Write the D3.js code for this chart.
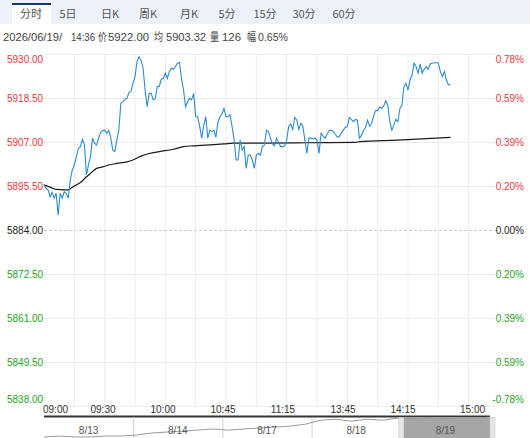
<!DOCTYPE html>
<html><head><meta charset="utf-8">
<script src="https://cdn.jsdelivr.net/npm/d3@7/dist/d3.min.js"></script>
<style>
html,body{margin:0;padding:0;background:#fff;}
svg{display:block;}
</style></head>
<body><svg id="c" width="530" height="438"></svg>
<script>
// ---------- data ----------
const tabs = ["分时","5日","日K","周K","月K","5分","15分","30分","60分"];
const infoParts = ["2026/06/19/","14:36","价","5922.00","均","5903.32","量","126","幅","0.65%"];
const prevClose = 5884;
const priceTicks = [5930, 5918.5, 5907, 5895.5, 5884, 5872.5, 5861, 5849.5, 5838];
const pctTicks = ["0.78%","0.59%","0.39%","0.20%","0.00%","0.20%","0.39%","0.59%","-0.78%"];
const timeLabels = ["09:00","09:30","10:00","10:45","11:15","13:45","14:15","15:00"];
const totalMinutes = 225;
const price = [
5895.8,5894.9,5894.5,5892.7,5893.8,5892.3,5893.6,5887.9,5893.6,5892.3,
5894.0,5893.6,5892.3,5897.1,5899.7,5901.0,5903.2,5905.3,5905.8,5907.7,
5906.2,5898.4,5901.0,5903.2,5908.0,5906.7,5906.2,5908.0,5909.5,5910.0,
5910.1,5909.3,5910.0,5908.2,5904.9,5904.5,5907.5,5910.1,5917.1,5917.5,
5918.2,5918.4,5919.9,5920.2,5922.3,5924.1,5928.0,5929.3,5928.4,5926.3,
5920.6,5916.2,5919.7,5919.7,5918.0,5918.4,5921.5,5921.5,5923.4,5923.6,
5925.0,5923.6,5925.4,5926.3,5926.0,5926.7,5927.6,5927.8,5923.6,5920.6,
5916.2,5917.5,5918.4,5918.0,5919.7,5913.6,5913.6,5911.0,5908.0,5911.4,
5913.6,5908.0,5910.1,5909.7,5910.1,5908.2,5912.1,5913.6,5914.3,5915.8,
5913.6,5913.6,5914.1,5911.0,5907.7,5902.3,5902.3,5907.5,5904.9,5905.8,
5900.1,5903.6,5903.6,5902.3,5900.1,5903.6,5904.0,5903.6,5905.8,5906.2,
5910.1,5909.7,5908.0,5906.5,5906.0,5908.0,5906.9,5905.8,5905.8,5906.0,
5907.5,5911.1,5911.7,5910.3,5913.4,5912.7,5910.3,5911.9,5911.1,5907.5,
5904.0,5908.0,5908.0,5907.8,5908.0,5907.5,5904.0,5909.3,5908.6,5908.0,
5909.1,5910.0,5910.1,5909.7,5909.1,5908.3,5908.4,5909.3,5910.1,5910.8,
5911.1,5913.4,5912.9,5912.3,5912.9,5912.7,5908.0,5908.8,5910.0,5910.8,
5912.7,5911.1,5911.9,5913.8,5915.2,5915.2,5916.2,5915.8,5916.4,5917.8,
5916.6,5912.3,5910.1,5911.4,5912.9,5912.3,5915.8,5916.6,5921.5,5922.3,
5920.6,5923.2,5924.5,5927.6,5926.7,5925.0,5927.4,5925.0,5926.0,5926.7,
5926.0,5927.4,5927.6,5927.7,5927.7,5927.6,5925.4,5924.1,5925.4,5923.2,
5921.9,5922.0];
const avgMinutes = [0,3,6,10,12,14,18,21,23,26,29,32,36,41,44,48,52,57,64,69,74,80,89,94,109,130,154,156,175,201];
const avgValues  = [5895.8,5895.2,5894.6,5894.5,5894.5,5895.2,5896.4,5897.9,5898.8,5900.1,5900.5,5901.0,5901.4,5901.8,5902.3,5903.3,5904.0,5904.5,5905.1,5905.8,5906.0,5906.2,5906.5,5906.7,5906.7,5906.8,5906.9,5907.1,5907.5,5908.2];
const navDays = ["8/13","8/14","8/17","8/18","8/19"];
const navValues = [5800,5806,5800,5800,5806,5806,5812,5825,5831,5837,5843,5850,5843,5850,5856,5862,5868,5880,5905,5911,5899,5911,5905,5918,5911,5918,5911,5918,5918,5924];

// ---------- chart ----------
const svg = d3.select("#c");
const latin = "'Liberation Sans', Arial, 'Noto Sans CJK SC', sans-serif";
const cjk = "'Noto Sans CJK SC', 'Liberation Sans', sans-serif";
const red = "#e8383d", green = "#27a327";

// tab bar
svg.append("rect").attr("x",0).attr("y",0).attr("width",530).attr("height",24).attr("fill","#edf1f9");
const tabPos = [31,68,110,148,189,227,265,304,344];
svg.append("rect").attr("x",12).attr("y",3).attr("width",39).attr("height",21).attr("fill","#fff");
svg.append("rect").attr("x",12).attr("y",3).attr("width",39).attr("height",2).attr("fill","#1d3566");
svg.selectAll("text.tab").data(tabs).enter().append("text")
  .attr("class","tab")
  .attr("x",(d,i)=>tabPos[i]).attr("y",18)
  .attr("text-anchor","middle").attr("font-family",cjk).attr("font-size",11)
  .attr("fill","#555").text(d=>d);

// info line
const infoX = [3,71,98,108,154,166,210,222,247,258];
const infoW = [59,24,9,41,9,40,9,19,9,30];
svg.selectAll("text.info").data(infoParts).enter().append("text")
  .attr("class","info").attr("x",(d,i)=>infoX[i]).attr("y",41)
  .attr("textLength",(d,i)=>infoW[i]).attr("lengthAdjust","spacingAndGlyphs")
  .attr("font-family",latin).attr("font-size",11).attr("fill","#444").text(d=>d);

// scales
const x = d3.scaleLinear().domain([0,totalMinutes]).range([44,499]);
const y = d3.scaleLinear().domain([5838,5930]).range([406,54]);

// grid
const g = svg.append("g");
const vTicks = d3.range(15, totalMinutes, 15);
g.selectAll("line.v").data(vTicks).enter().append("line")
  .attr("x1",d=>x(d)).attr("x2",d=>x(d)).attr("y1",y(5930)).attr("y2",y(5838))
  .attr("stroke","#ebebeb").attr("stroke-width",1);
g.selectAll("line.h").data(priceTicks).enter().append("line")
  .attr("x1",44).attr("x2",497).attr("y1",d=>Math.round(y(d))+0.5).attr("y2",d=>Math.round(y(d))+0.5)
  .attr("stroke",d=>d===prevClose?"#cfcfcf":"#ebebeb").attr("stroke-width",1)
  .attr("stroke-dasharray",d=>d===prevClose?"3,2":null);

// y labels
const labY = (d,i)=> i===0 ? y(d)+9 : (i===priceTicks.length-1 ? y(d)-3 : y(d)+3.5);
const col = d => d>prevClose?red:(d<prevClose?green:"#222");
svg.selectAll("text.yl").data(priceTicks).enter().append("text")
  .attr("x",7).attr("y",labY).attr("font-family",latin).attr("font-size",10)
  .attr("fill",col).text(d=>d.toFixed(2));
svg.selectAll("text.yr").data(priceTicks).enter().append("text")
  .attr("x",524).attr("y",labY).attr("text-anchor","end").attr("font-family",latin).attr("font-size",10)
  .attr("fill",col).text((d,i)=>pctTicks[i]);

// avg line
svg.append("path").datum(avgMinutes.map((m,i)=>[m,avgValues[i]]))
  .attr("fill","none").attr("stroke","#1a1a1a").attr("stroke-width",1.2)
  .attr("d", d3.line().x(d=>x(d[0])).y(d=>y(d[1])).curve(d3.curveMonotoneX));

// price line
svg.append("path").datum(price)
  .attr("fill","none").attr("stroke","#2f8bd0").attr("stroke-width",1.1)
  .attr("d", d3.line().x((d,i)=>x(i)).y(d=>y(d)));

// time labels
const tx = d3.scalePoint().domain(timeLabels).range([43,463]);
svg.selectAll("text.tl").data(timeLabels).enter().append("text")
  .attr("x",(d,i)=> i===0 ? tx(d) : (i===timeLabels.length-1 ? tx(d)-3 : tx(d)))
  .attr("y",413)
  .attr("text-anchor",(d,i)=> (i===0||i===timeLabels.length-1) ? "start" : "middle")
  .attr("font-family",latin).attr("font-size",10).attr("fill","#333").text(d=>d);

// navigator
const nb = d3.scaleBand().domain(navDays).range([44,490]);
svg.append("rect").attr("x",44).attr("y",415.5).attr("width",446).attr("height",2).attr("fill","#333");
const last = navDays[navDays.length-1];
svg.append("rect").attr("x",nb(last)+3).attr("y",417.5).attr("width",nb.bandwidth()-3).attr("height",21).attr("fill","#a6a6a6");
svg.selectAll("line.nd").data(navDays.slice(1)).enter().append("line")
  .attr("x1",d=>nb(d)+0.5).attr("x2",d=>nb(d)+0.5).attr("y1",417).attr("y2",438)
  .attr("stroke","#d0d0d0");
const nx = d3.scaleLinear().domain([0,navValues.length-1]).range([44,490]);
const ny = d3.scaleLinear().domain([5800,5925]).range([437,417]);
svg.append("path").datum(navValues).attr("fill","none").attr("stroke","#9a9a9a").attr("stroke-width",1)
  .attr("d", d3.line().x((d,i)=>nx(i)).y(d=>ny(d)));
svg.selectAll("text.nl").data(navDays).enter().append("text")
  .attr("x",d=>nb(d)+nb.bandwidth()/2).attr("y",434).attr("text-anchor","middle")
  .attr("font-family",latin).attr("font-size",10).attr("fill","#555").text(d=>d);
// handles
[nb(last)-2, nb(last)+nb.bandwidth()].forEach(hx=>{
  svg.append("rect").attr("x",hx).attr("y",417.5).attr("width",5).attr("height",21)
    .attr("fill","#e6e6e6").attr("stroke","#c8c8c8").attr("stroke-width",0.6);
});
</script></body></html>
